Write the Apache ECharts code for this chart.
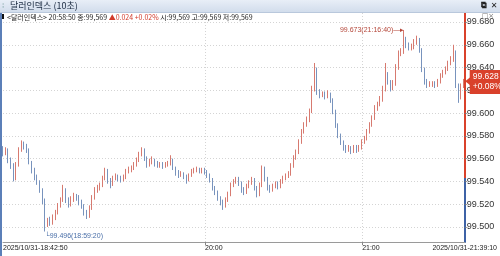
<!DOCTYPE html>
<html><head><meta charset="utf-8">
<script src="https://cdn.jsdelivr.net/npm/echarts@6/dist/echarts.min.js"></script>
<style>html,body{margin:0;padding:0;background:#fff}#c{width:500px;height:256px}</style>
</head><body><div id="c"></div>
<script>
// ---- data ----
const windowTitle = '달러인덱스 (10초)';
const infoHead = '<달러인덱스> 20:58:50 종:99,569 ';
const infoChange = '▲0.024 +0.02%';
const infoTail = ' 시:99,569 고:99,569 저:99,569';
const startTime = '18:42:50';          // first candle (1-minute candles)
const endTime = '21:39:10';
const xTickTimes = ['18:42:50', '20:00:00', '21:00:00', '21:39:10'];
const xTickLabels = ['2025/10/31-18:42:50', '20:00', '21:00', '2025/10/31-21:39:10'];
const yTicks = [99.500, 99.520, 99.540, 99.560, 99.580, 99.600, 99.620, 99.640, 99.660, 99.680];
const baseValue = 99.544;              // axis colour switch (red above, blue below)
const lastPrice = 99.628;
const lastChange = '+0.08%';
const highMark = { time: '21:16:40', value: 99.673 };
const lowMark = { time: '18:59:20', value: 99.496 };
// [open, close, low, high] per minute
const ohlc = [
[99.568,99.566,99.562,99.571],[99.566,99.568,99.563,99.570],[99.568,99.559,99.556,99.569],[99.559,99.555,99.551,99.561],
[99.555,99.542,99.540,99.556],[99.542,99.555,99.541,99.557],[99.555,99.568,99.553,99.570],[99.568,99.574,99.566,99.576],
[99.574,99.571,99.568,99.575],[99.571,99.568,99.565,99.573],[99.568,99.557,99.555,99.569],[99.557,99.550,99.547,99.558],
[99.550,99.544,99.541,99.552],[99.544,99.540,99.537,99.546],[99.540,99.533,99.530,99.541],[99.533,99.524,99.520,99.534],
[99.524,99.502,99.496,99.525],[99.502,99.505,99.500,99.508],[99.505,99.504,99.501,99.509],[99.504,99.508,99.502,99.511],
[99.508,99.513,99.506,99.515],[99.513,99.519,99.511,99.521],[99.519,99.524,99.517,99.526],[99.524,99.533,99.522,99.537],
[99.533,99.524,99.521,99.534],[99.524,99.520,99.517,99.526],[99.520,99.524,99.518,99.527],[99.524,99.527,99.522,99.530],
[99.527,99.526,99.523,99.529],[99.526,99.522,99.519,99.528],[99.522,99.519,99.516,99.524],[99.519,99.513,99.510,99.520],
[99.513,99.509,99.507,99.515],[99.509,99.517,99.508,99.519],[99.517,99.526,99.515,99.528],[99.526,99.533,99.524,99.535],
[99.533,99.534,99.530,99.537],[99.534,99.536,99.532,99.539],[99.536,99.543,99.535,99.545],[99.543,99.550,99.541,99.552],
[99.550,99.541,99.538,99.551],[99.541,99.537,99.534,99.543],[99.537,99.543,99.536,99.545],[99.543,99.545,99.541,99.547],
[99.545,99.543,99.540,99.546],[99.543,99.542,99.539,99.545],[99.542,99.543,99.540,99.546],[99.543,99.549,99.542,99.551],
[99.549,99.550,99.547,99.553],[99.550,99.552,99.548,99.554],[99.552,99.555,99.550,99.557],[99.555,99.559,99.553,99.561],
[99.559,99.564,99.557,99.566],[99.564,99.568,99.562,99.570],[99.568,99.561,99.558,99.569],[99.561,99.555,99.552,99.562],
[99.555,99.557,99.553,99.560],[99.557,99.559,99.555,99.562],[99.559,99.556,99.553,99.560],[99.556,99.555,99.552,99.558],
[99.555,99.555,99.552,99.557],[99.555,99.554,99.551,99.557],[99.554,99.555,99.552,99.557],[99.555,99.556,99.553,99.558],
[99.556,99.559,99.554,99.563],[99.559,99.552,99.550,99.560],[99.552,99.548,99.545,99.553],[99.548,99.546,99.543,99.550],
[99.546,99.547,99.544,99.549],[99.547,99.545,99.542,99.548],[99.545,99.542,99.538,99.546],[99.542,99.545,99.540,99.547],
[99.545,99.549,99.544,99.551],[99.549,99.550,99.547,99.552],[99.550,99.550,99.548,99.553],[99.550,99.549,99.547,99.552],
[99.549,99.550,99.547,99.552],[99.550,99.549,99.546,99.552],[99.549,99.546,99.543,99.550],[99.546,99.542,99.539,99.547],
[99.542,99.535,99.532,99.543],[99.535,99.531,99.528,99.536],[99.531,99.526,99.523,99.532],[99.526,99.522,99.519,99.527],
[99.522,99.519,99.515,99.524],[99.519,99.524,99.517,99.526],[99.524,99.529,99.522,99.531],[99.529,99.537,99.527,99.539],
[99.537,99.540,99.535,99.542],[99.540,99.542,99.538,99.544],[99.542,99.539,99.536,99.544],[99.539,99.533,99.530,99.540],
[99.533,99.531,99.528,99.535],[99.531,99.536,99.529,99.538],[99.536,99.539,99.534,99.541],[99.539,99.542,99.537,99.544],
[99.542,99.535,99.532,99.543],[99.535,99.528,99.526,99.536],[99.528,99.537,99.527,99.539],[99.537,99.552,99.535,99.554],
[99.552,99.543,99.540,99.553],[99.543,99.535,99.532,99.544],[99.535,99.533,99.530,99.537],[99.533,99.536,99.531,99.538],
[99.536,99.538,99.534,99.540],[99.538,99.536,99.533,99.540],[99.536,99.540,99.534,99.542],[99.540,99.543,99.538,99.545],
[99.543,99.545,99.541,99.547],[99.545,99.546,99.543,99.549],[99.546,99.554,99.545,99.556],[99.554,99.561,99.552,99.563],
[99.561,99.566,99.559,99.568],[99.566,99.575,99.564,99.577],[99.575,99.584,99.573,99.586],[99.584,99.590,99.582,99.592],
[99.590,99.594,99.588,99.597],[99.594,99.602,99.592,99.604],[99.602,99.621,99.600,99.624],[99.621,99.639,99.619,99.644],
[99.639,99.619,99.616,99.640],[99.619,99.616,99.613,99.621],[99.616,99.617,99.614,99.619],[99.617,99.615,99.612,99.619],
[99.615,99.617,99.613,99.620],[99.617,99.612,99.609,99.618],[99.612,99.602,99.599,99.613],[99.602,99.590,99.587,99.603],
[99.590,99.581,99.578,99.591],[99.581,99.575,99.572,99.582],[99.575,99.570,99.567,99.576],[99.570,99.568,99.565,99.572],
[99.568,99.569,99.566,99.572],[99.569,99.567,99.564,99.571],[99.567,99.570,99.565,99.572],[99.570,99.568,99.565,99.572],
[99.568,99.570,99.566,99.572],[99.570,99.575,99.568,99.577],[99.575,99.578,99.573,99.580],[99.578,99.584,99.576,99.586],
[99.584,99.590,99.582,99.592],[99.590,99.596,99.588,99.598],[99.596,99.605,99.594,99.607],[99.605,99.608,99.602,99.610],
[99.608,99.612,99.606,99.615],[99.612,99.621,99.610,99.624],[99.621,99.634,99.619,99.644],[99.634,99.628,99.625,99.636],
[99.628,99.622,99.619,99.629],[99.622,99.626,99.620,99.629],[99.626,99.640,99.624,99.643],[99.640,99.652,99.638,99.655],
[99.652,99.654,99.650,99.657],[99.654,99.665,99.652,99.673],[99.665,99.660,99.657,99.667],[99.660,99.658,99.655,99.662],
[99.658,99.658,99.655,99.661],[99.658,99.663,99.656,99.665],[99.663,99.665,99.660,99.668],[99.665,99.656,99.653,99.666],
[99.656,99.639,99.636,99.657],[99.639,99.628,99.625,99.640],[99.628,99.625,99.622,99.630],[99.625,99.626,99.623,99.628],
[99.626,99.626,99.623,99.628],[99.626,99.625,99.622,99.628],[99.625,99.628,99.623,99.630],[99.628,99.633,99.626,99.635],
[99.633,99.636,99.631,99.638],[99.636,99.639,99.634,99.641],[99.639,99.644,99.637,99.646],[99.644,99.647,99.642,99.650],
[99.647,99.654,99.645,99.660],[99.654,99.625,99.622,99.655],[99.625,99.614,99.609,99.626],[99.614,99.624,99.612,99.626],
[99.624,99.628,99.622,99.630]
];

// ---- build (x = seconds since startTime) ----
const secOf = (hms) => { const p = hms.split(':').map(Number); return p[0] * 3600 + p[1] * 60 + p[2]; };
const s0 = secOf(startTime);
const rel = (hms) => secOf(hms) - s0;
const candles = ohlc.map((r, i) => [i * 60, r[0], r[1], r[2], r[3]]);
const xTickValues = xTickTimes.map(rel);
const yMin = 99.4868, yMax = 99.6879;
const frac = (yMax - baseValue) / (yMax - yMin);
const RED = '#d9412b', BLUE = '#3d62a6';
const UP = '#d77a70', DOWN = '#7893bd';
const lib = "'Liberation Sans',Arial,sans-serif";

const chart = echarts.init(document.getElementById('c'), null, { renderer: 'canvas' });
chart.setOption({
  animation: false,
  backgroundColor: '#fff',
  grid: { left: 2, right: 33, top: 13, bottom: 14, containLabel: false },
  xAxis: {
    type: 'value', min: 0, max: rel(endTime), scale: true,
    axisLine: { show: true, onZero: false, lineStyle: { color: '#9a9a9a', width: 1 } },
    axisTick: { show: true, customValues: xTickValues.slice(1, 3), length: 3, lineStyle: { color: '#888' } },
    axisLabel: {
      customValues: xTickValues, showMinLabel: true, showMaxLabel: true, hideOverlap: false,
      formatter: (v) => { const i = xTickValues.indexOf(v); return i >= 0 ? xTickLabels[i] : ''; },
      align: 'left', alignMinLabel: 'left', alignMaxLabel: 'center',
      fontSize: 7, fontFamily: lib, color: '#222', margin: 3
    },
    splitLine: { show: true, lineStyle: { color: '#d4d4d4', type: [1, 2], width: 1 } }
  },
  yAxis: {
    type: 'value', position: 'right', min: yMin, max: yMax, scale: true,
    axisLine: { show: true, onZero: false, lineStyle: { width: 2, color: new echarts.graphic.LinearGradient(0, 0, 0, 1, [
      { offset: 0, color: RED }, { offset: frac, color: RED }, { offset: frac, color: BLUE }, { offset: 1, color: BLUE }]) } },
    axisTick: { show: true, customValues: yTicks, length: 2, inside: false, lineStyle: { color: '#777' } },
    axisLabel: { customValues: yTicks, formatter: (v) => v.toFixed(3), fontSize: 9, fontFamily: lib, color: '#333', margin: 2 },
    splitLine: { show: true, lineStyle: { color: '#d4d4d4', type: [1, 2], width: 1 } }
  },
  series: [{
    type: 'candlestick',
    data: candles,
    barWidth: 0.2,
    itemStyle: { color: UP, color0: DOWN, borderColor: UP, borderColor0: DOWN, borderWidth: 1 },
    markPoint: {
      symbol: 'circle', symbolSize: 1, silent: true,
      itemStyle: { color: 'transparent' },
      data: [
        { coord: [rel(highMark.time), highMark.value],
          label: { show: true, position: 'left', distance: 1, formatter: highMark.value.toFixed(3) + '(' + highMark.time + ')—▸',
                   color: '#b5473a', fontSize: 7, fontFamily: lib } },
        { coord: [rel(lowMark.time), lowMark.value],
          label: { show: true, position: [-1, 2], align: 'left', verticalAlign: 'top',
                   formatter: '└' + lowMark.value.toFixed(3) + '(' + lowMark.time + ')',
                   color: '#4a6fa8', fontSize: 7, fontFamily: lib } },
        { coord: [rel(endTime), lastPrice], symbol: 'triangle', symbolSize: [8, 5], symbolRotate: 90, symbolOffset: [3, 0],
          itemStyle: { color: RED }, label: { show: false } }
      ]
    },
    markLine: {
      silent: true, symbol: ['none', 'none'],
      lineStyle: { color: 'rgba(0,0,0,0)', width: 0 },
      data: [{ yAxis: lastPrice }],
      label: { show: true, position: 'end', distance: 5, offset: [0, 3],
        formatter: () => lastPrice.toFixed(3) + '\n' + lastChange,
        backgroundColor: RED, color: '#fff', padding: [2, 3, 2, 3], fontSize: 8.5, lineHeight: 10, fontFamily: lib }
    }
  }],
  graphic: [
    { type: 'rect', shape: { x: 0, y: 0, width: 500, height: 12 }, style: { fill: new echarts.graphic.LinearGradient(0, 0, 0, 1, [{ offset: 0, color: '#e8eef7' }, { offset: 1, color: '#d2ddec' }]) }, z: 10 },
    { type: 'rect', shape: { x: 0, y: 12, width: 500, height: 1 }, style: { fill: '#b9c8dc' }, z: 10 },
    { type: 'text', x: 2, y: 6, style: { text: '⁞', fill: '#8aa', font: '8px sans-serif', verticalAlign: 'middle' }, z: 11 },
    { type: 'text', x: 10, y: 6, style: { text: windowTitle, fill: '#1a2a40', font: "9px 'Noto Sans CJK KR',sans-serif", verticalAlign: 'middle' }, z: 11 },
    { type: 'text', x: 484, y: 6, style: { text: '⧉', fill: '#222', font: 'bold 8px DejaVu Sans', verticalAlign: 'middle', align: 'center' }, z: 11 },
    { type: 'text', x: 494, y: 6, style: { text: '✕', fill: '#222', font: 'bold 8px DejaVu Sans', verticalAlign: 'middle', align: 'center' }, z: 11 },
    { type: 'rect', shape: { x: 0, y: 13, width: 2, height: 243 }, style: { fill: '#5b7fb8' }, z: 10 },
    { type: 'rect', shape: { x: 2, y: 14, width: 2, height: 5 }, style: { fill: '#111' }, z: 10 },
    { type: 'text', x: 7, y: 17, style: {
        text: '{b|' + infoHead + '}{r|' + infoChange + '}{b|' + infoTail + '}',
        verticalAlign: 'middle',
        rich: { b: { fill: '#222', font: "7px 'Noto Sans CJK KR',sans-serif" }, r: { fill: '#d13b2b', font: "7px 'Noto Sans CJK KR',sans-serif" } } }, z: 11 },
    { type: 'text', x: 488, y: 16, style: { text: '□×', fill: '#777', font: '7px DejaVu Sans', verticalAlign: 'middle', align: 'center' }, z: 11 }
  ]
});
</script></body></html>
